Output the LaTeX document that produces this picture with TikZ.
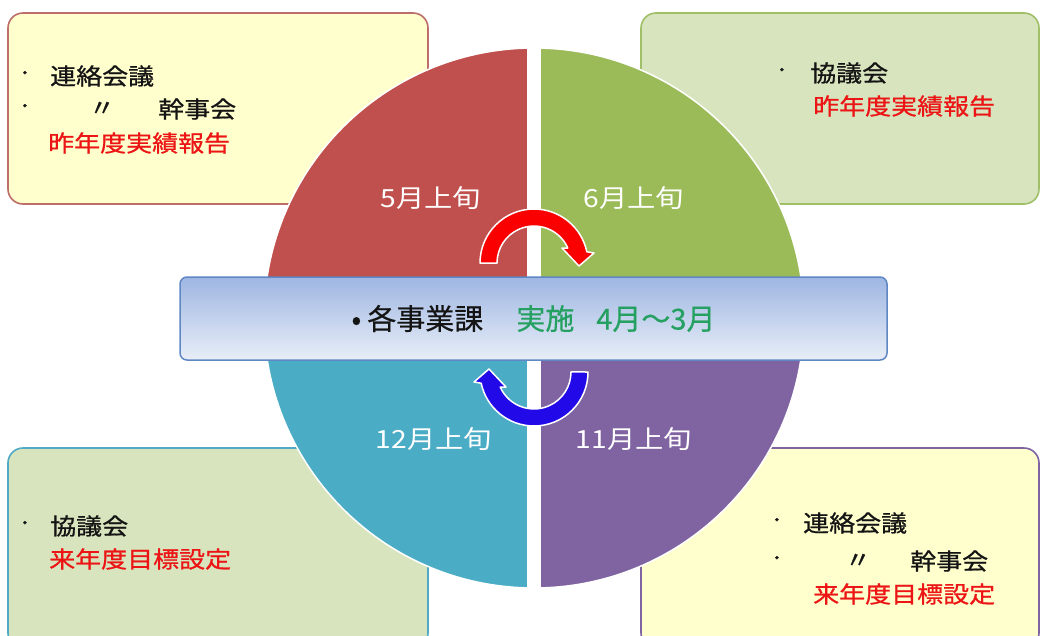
\documentclass[tikz,border=0pt]{standalone}
\usepackage{fontspec}
\newfontfamily\jp[FakeBold=0.4]{Noto Sans CJK JP}
\newfontfamily\jpw[FakeStretch=1.13]{Noto Sans CJK JP}
\newfontfamily\jpwb[FakeStretch=1.13,FakeBold=0.8]{Noto Sans CJK JP}
\definecolor{qred}{RGB}{192,80,77}
\definecolor{qgreen}{RGB}{155,187,89}
\definecolor{qteal}{RGB}{75,172,198}
\definecolor{qpurple}{RGB}{128,100,162}
\definecolor{pyellow}{RGB}{255,255,206}
\definecolor{pgreen}{RGB}{216,228,190}
\definecolor{bred}{RGB}{190,110,106}
\definecolor{bgreen}{RGB}{160,192,104}
\definecolor{bteal}{RGB}{80,170,196}
\definecolor{bpurple}{RGB}{128,100,162}
\definecolor{bandtop}{RGB}{158,182,226}
\definecolor{bandbot}{RGB}{232,238,247}
\definecolor{bandedge}{RGB}{95,135,195}
\definecolor{tgreen}{RGB}{36,160,96}
\definecolor{tred}{RGB}{236,20,20}
\definecolor{tblack}{RGB}{20,20,20}
\definecolor{ared}{RGB}{250,0,0}
\definecolor{ablue}{RGB}{34,10,232}
\begin{document}
\begin{tikzpicture}[x=1pt,y=1pt,
  infobox/.style={draw, line width=1.6pt, rounded corners=15pt, inner sep=0pt},
  boxtext/.style={font=\jpwb\fontsize{23}{26}\selectfont, text=tblack, inner sep=0pt, anchor=west},
  boxdot/.style={font=\jpwb\fontsize{23}{26}\selectfont, text=tblack, inner sep=0pt},
  redtext/.style={boxtext, text=tred},
  qlabel/.style={font=\jpw\fontsize{25}{28}\selectfont, text=white, inner sep=0pt},
  arrowshape/.style={draw=white, line width=1.5pt, line join=round},
  band/.style={draw=bandedge, line width=1.5pt, rounded corners=7pt, top color=bandtop, bottom color=bandbot,
    minimum width=707pt, minimum height=83pt, inner sep=0pt, font=\jp\fontsize{29}{32}\selectfont, text=tblack}
]
\useasboundingbox (0,0) rectangle (1043,-635);
\clip (0,0) rectangle (1043,-635);
\fill[white] (0,0) rectangle (1043,-635);

% info boxes
\node[infobox, draw=bred, fill=pyellow, minimum width=420pt, minimum height=191pt] (tlbox) at (218,-108.5) {};
\node[infobox, draw=bgreen, fill=pgreen, minimum width=398pt, minimum height=191pt] (trbox) at (840,-108.5) {};
\node[infobox, draw=bteal, fill=pgreen, minimum width=420pt, minimum height=200pt] (blbox) at (218,-548) {};
\node[infobox, draw=bpurple, fill=pyellow, minimum width=398pt, minimum height=200pt] (brbox) at (840,-548) {};

% pie
\coordinate (pc) at (534,-318);
\fill[qred] (pc) -- (534,-48) arc[start angle=90,end angle=180,radius=270pt] -- cycle;
\fill[qteal] (pc) -- (264,-318) arc[start angle=180,end angle=270,radius=270pt] -- cycle;
\fill[qpurple] (pc) -- (534,-588) arc[start angle=270,end angle=360,radius=270pt] -- cycle;
\fill[qgreen] (pc) -- (804,-318) arc[start angle=0,end angle=90,radius=270pt] -- cycle;
\draw[white, line width=1.5pt] (pc) circle[radius=270pt];
\fill[white] (527,-40) rectangle (541,-600);

% quadrant labels
\node[qlabel] (may) at (431,-198) {5月上旬};
\node[qlabel] (jun) at (634,-198) {6月上旬};
\node[qlabel] (dec) at (434,-439) {12月上旬};
\node[qlabel] (nov) at (634,-439) {11月上旬};

% circular arrows
\begin{scope}[shift={(534,-263)}]
\filldraw[arrowshape, fill=ared] (-54,0) arc[start angle=180,end angle=12,radius=54pt]
  -- (60,10) -- (45,-3) -- (28,15) -- (33.8,15) arc[start angle=24,end angle=180,radius=37pt] -- cycle;
\end{scope}
\begin{scope}[shift={(534,-372)}, rotate=180]
\filldraw[arrowshape, fill=ablue] (-54,0) arc[start angle=180,end angle=12,radius=54pt]
  -- (60,10) -- (45,-3) -- (28,15) -- (33.8,15) arc[start angle=24,end angle=180,radius=37pt] -- cycle;
\end{scope}

% central band
\node[band] (bandnode) at (533.5,-318.5) {\textbullet\hspace{6pt}各事業課\hspace{33pt}{\color{tgreen}実施\hspace{22pt}4月～3月}};

% top-left box text
\node[boxdot] (tld1) at (25,-76) {·};
\node[boxtext] (tl1) at (50,-76) {連絡会議};
\node[boxdot] (tld2) at (25,-109) {·};
\node[boxdot] (tlditto) at (102,-109) {〃};
\node[boxtext] (tl2) at (158,-109) {幹事会};
\node[redtext] (tl3) at (48,-143) {昨年度実績報告};

% top-right box text
\node[boxdot] (trd1) at (782,-73) {·};
\node[boxtext] (tr1) at (810,-73) {協議会};
\node[redtext] (tr2) at (813,-106) {昨年度実績報告};

% bottom-left box text
\node[boxdot] (bld1) at (25,-526) {·};
\node[boxtext] (bl1) at (50,-526) {協議会};
\node[redtext] (bl2) at (49,-559) {来年度目標設定};

% bottom-right box text
\node[boxdot] (brd1) at (777,-523) {·};
\node[boxtext] (br1) at (803,-523) {連絡会議};
\node[boxdot] (brd2) at (777,-561) {·};
\node[boxdot] (brditto) at (858,-561) {〃};
\node[boxtext] (br2) at (910,-561) {幹事会};
\node[redtext] (br3) at (813,-594) {来年度目標設定};
\end{tikzpicture}
\end{document}
